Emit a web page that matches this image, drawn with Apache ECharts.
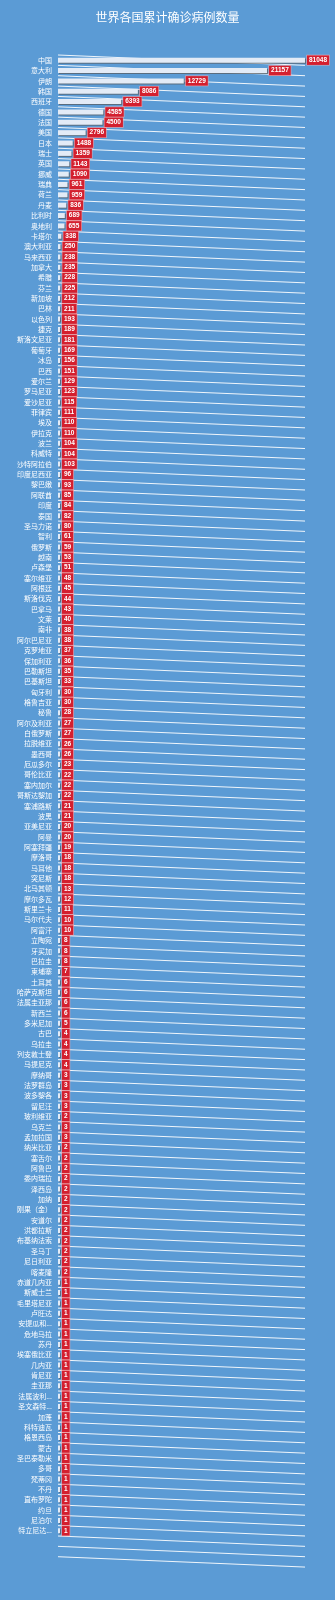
<!DOCTYPE html>
<html>
<head>
<meta charset="utf-8">
<script src="https://cdn.jsdelivr.net/npm/echarts@6/dist/echarts.min.js"></script>
<style>
html,body{margin:0;padding:0;background:#5b9bd5;}
#chart{width:335px;height:1600px;}
</style>
</head>
<body>
<div id="chart"></div>
<script>
const categories = ['中国','意大利','伊朗','韩国','西班牙','德国','法国','美国','日本','瑞士','英国','挪威','瑞典','荷兰','丹麦','比利时','奥地利','卡塔尔','澳大利亚','马来西亚','加拿大','希腊','芬兰','新加坡','巴林','以色列','捷克','斯洛文尼亚','葡萄牙','冰岛','巴西','爱尔兰','罗马尼亚','爱沙尼亚','菲律宾','埃及','伊拉克','波兰','科威特','沙特阿拉伯','印度尼西亚','黎巴嫩','阿联酋','印度','泰国','圣马力诺','智利','俄罗斯','越南','卢森堡','塞尔维亚','阿根廷','斯洛伐克','巴拿马','文莱','南非','阿尔巴尼亚','克罗地亚','保加利亚','巴勒斯坦','巴基斯坦','匈牙利','格鲁吉亚','秘鲁','阿尔及利亚','白俄罗斯','拉脱维亚','墨西哥','厄瓜多尔','哥伦比亚','塞内加尔','哥斯达黎加','塞浦路斯','波黑','亚美尼亚','阿曼','阿塞拜疆','摩洛哥','马耳他','突尼斯','北马其顿','摩尔多瓦','斯里兰卡','马尔代夫','阿富汗','立陶宛','牙买加','巴拉圭','柬埔寨','土耳其','哈萨克斯坦','法属圭亚那','新西兰','多米尼加','古巴','乌拉圭','列支敦士登','马提尼克','摩纳哥','法罗群岛','波多黎各','留尼汪','玻利维亚','乌克兰','孟加拉国','纳米比亚','塞舌尔','阿鲁巴','委内瑞拉','泽西岛','加纳','刚果（金）','安道尔','洪都拉斯','布基纳法索','圣马丁','尼日利亚','喀麦隆','赤道几内亚','斯威士兰','毛里塔尼亚','卢旺达','安提瓜和巴布达','危地马拉','苏丹','埃塞俄比亚','几内亚','肯尼亚','圭亚那','法属波利尼西亚','圣文森特和格林纳丁斯','加蓬','科特迪瓦','格恩西岛','蒙古','圣巴泰勒米','多哥','梵蒂冈','不丹','直布罗陀','约旦','尼泊尔','特立尼达和多巴哥'];
const values = [81048,21157,12729,8086,6393,4585,4500,2796,1488,1359,1143,1090,961,959,836,689,655,338,250,238,235,228,225,212,211,193,189,181,169,156,151,129,123,115,111,110,110,104,104,103,96,93,85,84,82,80,61,59,53,51,48,45,44,43,40,38,38,37,36,35,33,30,30,28,27,27,26,26,23,22,22,22,21,21,20,20,19,18,18,18,13,12,11,10,10,8,8,8,7,6,6,6,6,5,4,4,4,4,3,3,3,3,2,3,3,2,2,2,2,2,2,2,2,2,2,2,2,2,1,1,1,1,1,1,1,1,1,1,1,1,1,1,1,1,1,1,1,1,1,1,1,1,1];
const titleText = '世界各国累计确诊病例数量';
const axisMax = 25000;

const chart = echarts.init(document.getElementById('chart'), null, {renderer:'canvas'});

function renderSlantLines(params, api) {
  const cs = params.coordSys;
  const band = api.size([0, 1])[1];
  const top = api.coord([0, 0])[1] - band / 2;
  const children = [];
  const n = categories.length + 3;
  for (let k = 0; k < n; k++) {
    children.push({
      type: 'line',
      shape: { x1: cs.x, y1: top + k * band, x2: cs.x + cs.width, y2: top + (k + 1) * band },
      style: { stroke: 'rgba(255,255,255,0.9)', lineWidth: 1 }
    });
  }
  return { type: 'group', children: children };
}

const option = {
  backgroundColor: '#5b9bd5',
  animation: false,
  title: {
    text: titleText,
    left: 'center',
    top: 6,
    textStyle: { color: '#ffffff', fontSize: 12, fontWeight: 'normal', fontFamily: 'Noto Sans CJK SC' }
  },
  grid: { left: 58, right: 30, top: 55, bottom: 64, containLabel: false },
  xAxis: { type: 'value', min: 0, max: axisMax, show: false },
  yAxis: {
    type: 'category',
    inverse: true,
    data: categories,
    axisLine: { show: false },
    axisTick: { show: false },
    axisLabel: {
      color: '#ffffff',
      fontSize: 7,
      margin: 6,
      interval: 0,
      width: 36,
      overflow: 'truncate',
      fontFamily: 'Noto Sans CJK SC'
    }
  },
  series: [
    {
      type: 'custom',
      renderItem: renderSlantLines,
      data: [[0, 0]],
      silent: true,
      z: 1
    },
    {
      type: 'bar',
      data: values,
      barWidth: 5,
      barMinHeight: 2,
      z: 2,
      itemStyle: {
        color: '#e3ebf6',
        shadowColor: 'rgba(90,90,90,0.7)',
        shadowOffsetX: 1,
        shadowOffsetY: 1,
        shadowBlur: 0
      },
      label: {
        show: true,
        position: 'right',
        distance: 2,
        color: '#ffffff',
        fontSize: 6.5,
        fontWeight: 'bold',
        fontFamily: 'Liberation Sans',
        backgroundColor: '#d41f2e',
        borderColor: 'rgba(255,170,170,0.8)',
        borderWidth: 0.6,
        padding: [1.5, 2, 1, 2],
        lineHeight: 7
      }
    }
  ]
};
chart.setOption(option);
</script>
</body>
</html>
